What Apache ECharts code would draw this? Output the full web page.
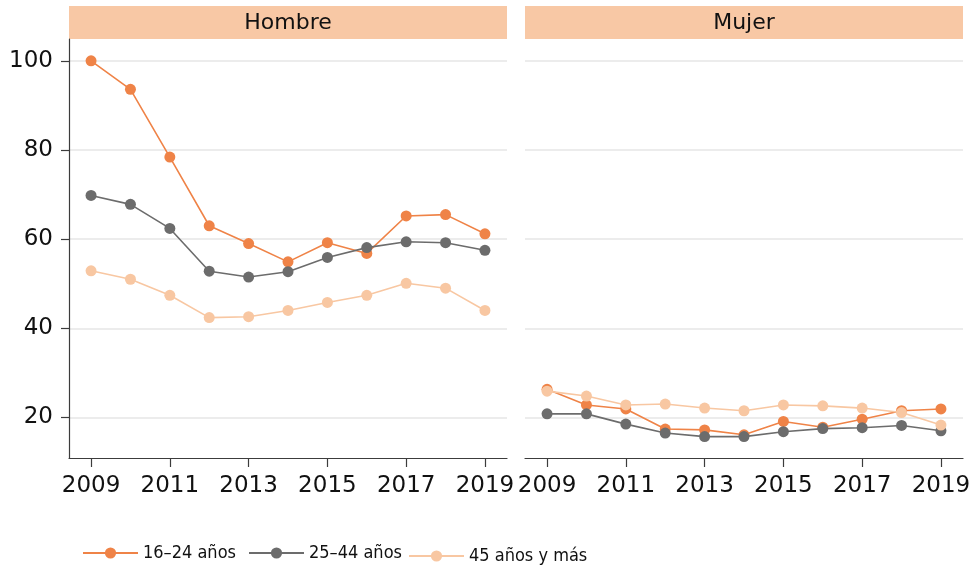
<!DOCTYPE html>
<html><head><meta charset="utf-8">
<script src="https://cdn.jsdelivr.net/npm/echarts@6/dist/echarts.min.js"></script>
<style>html,body{margin:0;padding:0;background:#fff}#c{width:975px;height:568px}</style>
</head><body><div id="c"></div>
<script>
const years = [2009, 2010, 2011, 2012, 2013, 2014, 2015, 2016, 2017, 2018, 2019];
const panels = ['Hombre', 'Mujer'];
const seriesNames = ['16–24 años', '25–44 años', '45 años y más'];
const hombre16_24 = [100, 93.6, 78.4, 63.0, 59.0, 54.9, 59.2, 56.8, 65.2, 65.5, 61.2];
const hombre25_44 = [69.8, 67.8, 62.4, 52.8, 51.5, 52.7, 55.9, 58.1, 59.4, 59.2, 57.5];
const hombre45 = [52.9, 51.0, 47.4, 42.4, 42.6, 44.0, 45.8, 47.4, 50.1, 49.0, 44.0];
const mujer16_24 = [26.3, 22.8, 21.9, 17.4, 17.2, 16.1, 19.1, 17.8, 19.6, 21.5, 21.9];
const mujer25_44 = [20.8, 20.8, 18.5, 16.5, 15.7, 15.7, 16.8, 17.5, 17.7, 18.2, 17.0];
const mujer45 = [25.9, 24.8, 22.8, 23.0, 22.1, 21.5, 22.8, 22.6, 22.1, 21.1, 18.3];
const xTickLabels = [2009, 2011, 2013, 2015, 2017, 2019];
const yTickLabels = [20, 40, 60, 80, 100];

const colors = ['#EF8347', '#6C6C6C', '#F8C7A2'];
const FONT = '"DejaVu Sans", sans-serif';
const LEGEND_FONT = '"DejaVu Sans Condensed", "Liberation Sans Narrow", "Liberation Sans", sans-serif';
const axisColor = '#3c3c3c';

const panelData = [
  [hombre16_24, hombre25_44, hombre45],
  [mujer16_24, mujer25_44, mujer45]
];

const gridLefts = [69, 525];
const gridWidth = 438;
const gridTop = 39;
const gridHeight = 419;

const grids = gridLefts.map(l => ({left: l, top: gridTop, width: gridWidth, height: gridHeight}));

const xAxes = gridLefts.map((l, i) => ({
  type: 'value', gridIndex: i, min: 2008.44, max: 2019.56,
  axisLine: {show: true, lineStyle: {color: axisColor, width: 1.2}},
  axisTick: {show: true, customValues: xTickLabels, length: 9, lineStyle: {color: axisColor, width: 1.2}},
  axisLabel: {customValues: xTickLabels, fontSize: 23, color: '#111', fontFamily: FONT, margin: 17,
              formatter: v => String(v)},
  splitLine: {show: false}
}));

const yAxes = gridLefts.map((l, i) => ({
  type: 'value', gridIndex: i, min: 10.9, max: 104.9,
  axisLine: {show: i === 0, lineStyle: {color: axisColor, width: 1.2}},
  axisTick: {show: i === 0, customValues: yTickLabels, length: 8, lineStyle: {color: axisColor, width: 1.2}},
  axisLabel: {show: i === 0, customValues: yTickLabels, fontSize: 23, color: '#111', fontFamily: FONT, margin: 16},
  splitLine: {show: true, lineStyle: {color: '#E6E6E6', width: 1.5}}
}));

const series = [];
panelData.forEach((arrs, p) => {
  arrs.forEach((vals, k) => {
    series.push({
      name: seriesNames[k], type: 'line', xAxisIndex: p, yAxisIndex: p,
      data: years.map((y, j) => [y, vals[j]]),
      symbol: 'circle', symbolSize: 11, showSymbol: true,
      lineStyle: {color: colors[k], width: 1.6},
      itemStyle: {color: colors[k]},
      emphasis: {disabled: true},
      animation: false,
      z: 2 + k
    });
  });
});

const legendLefts = [77, 243, 403];
const legendTops = [539, 539, 542];
const legends = seriesNames.map((n, k) => ({
  data: [n], left: legendLefts[k], top: legendTops[k], itemWidth: 55, itemHeight: 14, itemGap: 5,
  textStyle: {fontSize: 18, color: '#111', fontFamily: LEGEND_FONT}, selectedMode: false
}));

const graphics = [];
gridLefts.forEach((l, i) => {
  graphics.push({type: 'rect', left: l, top: 6, shape: {width: gridWidth, height: 33},
                 style: {fill: '#F8C8A5'}, silent: true});
  graphics.push({type: 'text', x: l + gridWidth / 2, y: 23,
                 style: {text: panels[i], fontSize: 22, fontFamily: FONT, fill: '#111',
                         textAlign: 'center', textVerticalAlign: 'middle'}, silent: true});
});

const chart = echarts.init(document.getElementById('c'), null, {renderer: 'canvas'});
chart.setOption({
  animation: false,
  backgroundColor: '#fff',
  grid: grids, xAxis: xAxes, yAxis: yAxes, series: series, legend: legends, graphic: graphics
});
</script></body></html>
